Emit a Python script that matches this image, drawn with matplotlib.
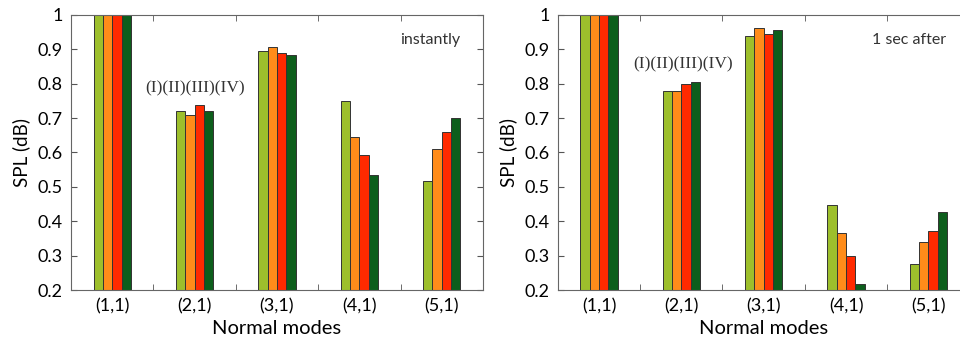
import matplotlib
matplotlib.use('Agg')
import matplotlib.pyplot as plt
import numpy as np

plt.rcParams['font.family'] = ['Lato', 'DejaVu Sans']

modes = ['(1,1)', '(2,1)', '(3,1)', '(4,1)', '(5,1)']
series_names = ['(I)', '(II)', '(III)', '(IV)']
colors = ['#9dbf2c', '#ff8c1a', '#ff2a00', '#0d5e1c']

# SPL values, one list per case (I)..(IV)
instant_I = [1.0, 0.720, 0.896, 0.750, 0.517]
instant_II = [1.0, 0.708, 0.907, 0.644, 0.609]
instant_III = [1.0, 0.738, 0.890, 0.592, 0.660]
instant_IV = [1.0, 0.720, 0.883, 0.533, 0.700]

after_I = [1.0, 0.778, 0.940, 0.448, 0.276]
after_II = [1.0, 0.780, 0.962, 0.365, 0.339]
after_III = [1.0, 0.800, 0.945, 0.299, 0.372]
after_IV = [1.0, 0.806, 0.955, 0.218, 0.428]

# title, data, title x, series label position
panels = [
    ('instantly', [instant_I, instant_II, instant_III, instant_IV], 4.49, (2.0, 0.785)),
    ('1 sec after', [after_I, after_II, after_III, after_IV], 4.32, (2.02, 0.857)),
]

fig = plt.figure(figsize=(9.6, 3.38), dpi=100)
lefts = [0.074, 0.581]
w = 0.113
x = np.arange(1, len(modes) + 1)

for left, (title, data, tx, (lx, ly)) in zip(lefts, panels):
    ax = fig.add_axes([left, 0.142, 0.429, 0.814])
    for i, vals in enumerate(data):
        ax.bar(x + (i - 1.5) * w, vals, width=w, color=colors[i],
               edgecolor='#333333', linewidth=0.7, zorder=2)
    ax.set_xlim(0.5, 5.5)
    ax.set_ylim(0.2, 1.0)
    ax.set_xticks(x)
    ax.set_xticklabels(modes)
    ax.set_xticks(x[:-1] + 0.5, minor=True)
    ax.set_yticks(np.arange(0.2, 1.01, 0.1))
    ax.set_yticklabels(['0.2', '0.3', '0.4', '0.5', '0.6', '0.7', '0.8', '0.9', '1'])
    ax.tick_params(axis='x', which='major', length=0, labelsize=13, pad=6)
    ax.tick_params(axis='x', which='minor', direction='in', length=4,
                   top=True, color='#555555')
    ax.tick_params(axis='y', direction='in', length=4, right=True,
                   labelsize=13, pad=6, color='#555555')
    for s in ax.spines.values():
        s.set_color('#666666')
        s.set_linewidth(0.8)
    ax.set_xlabel('Normal modes', fontsize=14.5, labelpad=4)
    ax.set_ylabel('SPL (dB)', fontsize=13.5, labelpad=5)
    ax.text(tx, 0.927, title, fontsize=11.5, color='#333333', ha='left', va='center')
    ax.text(lx, ly, ''.join(series_names), family='Liberation Serif',
            fontsize=12.5, color='#333333', ha='center', va='center')

fig.savefig('out.png', dpi=100)
